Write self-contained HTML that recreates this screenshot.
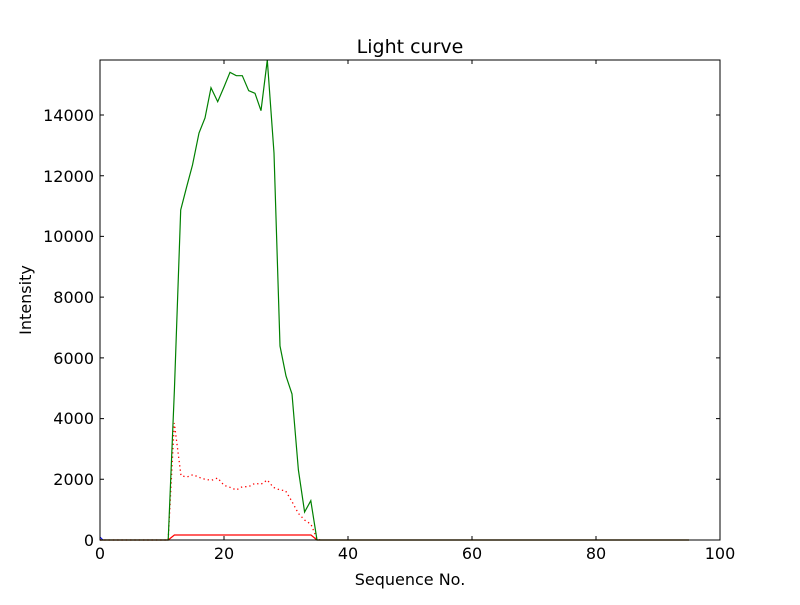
<!DOCTYPE html>
<html><head><meta charset="utf-8"><style>
body{margin:0;background:#fff}
svg text{font-family:"DejaVu Sans","Liberation Sans",sans-serif;fill:#000}
</style></head><body>
<svg width="800" height="600" viewBox="0 0 800 600" xmlns="http://www.w3.org/2000/svg">
<rect width="800" height="600" fill="#fff"/>
<g fill="none" stroke-linejoin="miter">
<polyline stroke="#000" stroke-width="1" points="100,540 689,540"/>
<polyline stroke="#00f" stroke-width="1" points="100,537 103,540"/>
<polyline stroke="#f00" stroke-width="1.2" points="100,540 168.2,540 174.4,535 311,535 317,540 689,540"/>
<polyline stroke="#f00" stroke-width="1.3" stroke-dasharray="1.3,3" points="100,540 168.2,540 174.3,423 181,475.7 187,477 193,474.7 199,477.3 205,479.3 211.5,480.3 217.7,478 224,485.3 230,487.3 236.3,490 242.3,486.7 248.7,486.7 255,483.3 261,484.3 267.3,480 273.3,487.3 280,490 285.5,490.7 291.5,500.7 298.3,513.3 304.6,520 311,524.3 317,539 320,540"/>
<polyline stroke="#008000" stroke-width="1.2" points="100,540 168.2,540 174.4,390 180.7,210 186.7,186.7 192.5,165 199,133 205,118 211,87.7 217.7,101.7 224,87 230,72.3 236.3,75.7 242.3,75.7 248.7,90.7 255,93.3 261,110.7 267.3,60 274,153 280,346 286,376 292,394 298.4,470 304.6,512 310.8,500.7 317,540 689,540"/>
</g>
<rect x="100" y="60" width="620" height="480" fill="none" stroke="#000" stroke-width="1"/>
<g stroke="#000" stroke-width="1">
<path d="M100,540v-4M224,540v-4M348,540v-4M472,540v-4M596,540v-4M720,540v-4M100,60v4M224,60v4M348,60v4M472,60v4M596,60v4M720,60v4"/>
<path d="M100,540h4M100,479.3h4M100,418.6h4M100,357.9h4M100,297.1h4M100,236.4h4M100,175.7h4M100,115h4M720,540h-4M720,479.3h-4M720,418.6h-4M720,357.9h-4M720,297.1h-4M720,236.4h-4M720,175.7h-4M720,115h-4"/>
</g>
<g font-size="16" text-anchor="middle">
<text x="100" y="559">0</text><text x="224" y="559">20</text><text x="348" y="559">40</text><text x="472" y="559">60</text><text x="596" y="559">80</text><text x="720" y="559">100</text>
</g>
<g font-size="16" text-anchor="end">
<text x="94" y="546">0</text><text x="94" y="485">2000</text><text x="94" y="424">4000</text><text x="94" y="364">6000</text><text x="94" y="303">8000</text><text x="94" y="242">10000</text><text x="94" y="182">12000</text><text x="94" y="121">14000</text>
</g>
<text x="410" y="53" font-size="19" text-anchor="middle">Light curve</text>
<text x="410" y="585" font-size="16" text-anchor="middle">Sequence No.</text>
<text transform="translate(31,300) rotate(-90)" font-size="16" text-anchor="middle">Intensity</text>
</svg>
</body></html>
